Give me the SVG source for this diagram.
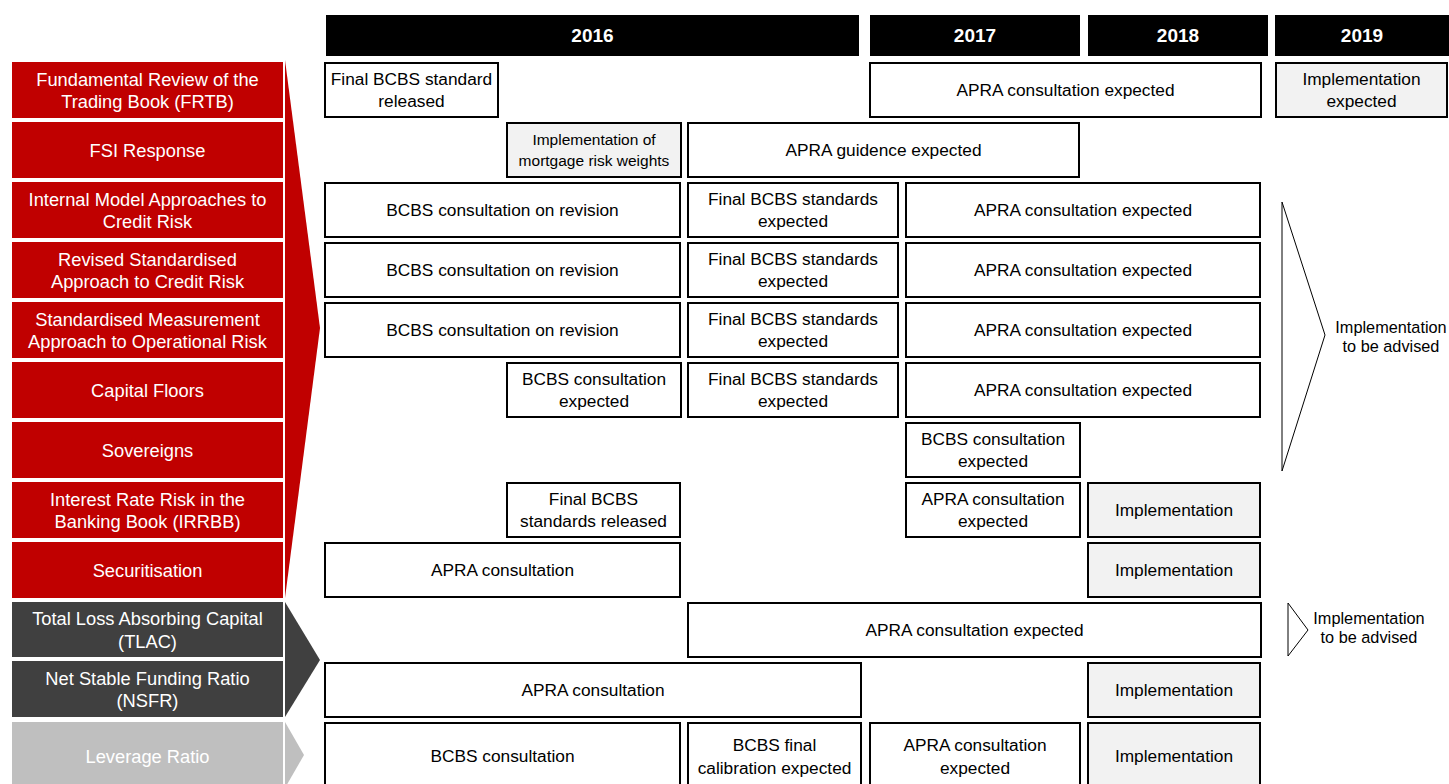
<svg xmlns="http://www.w3.org/2000/svg" width="1449" height="784" viewBox="0 0 1449 784">
<style>
.hdr{fill:#000}
.hdrt{font-family:"Liberation Sans",Arial,sans-serif;font-size:19px;font-weight:bold;fill:#fff;text-anchor:middle}
.lbl{font-family:"Liberation Sans",Arial,sans-serif;font-size:18.3px;fill:#fff;text-anchor:middle}
.red{fill:#C00000}
.dark{fill:#404040}
.light{fill:#BFBFBF}
.bx{fill:#fff;stroke:#000;stroke-width:2}
.gb{fill:#F2F2F2;stroke:#000;stroke-width:2}
.t{font-family:"Liberation Sans",Arial,sans-serif;font-size:17.3px;fill:#000;text-anchor:middle}
.ts{font-family:"Liberation Sans",Arial,sans-serif;font-size:15.5px;fill:#000;text-anchor:middle}
.tr{font-family:"Liberation Sans",Arial,sans-serif;font-size:16.3px;fill:#000;text-anchor:middle}
.tri{fill:#fff;stroke:#000;stroke-width:1}
</style>
<rect width="1449" height="784" fill="#fff"/>

<g id="headers">
<rect class="hdr" x="326" y="15" width="533" height="41"/>
<text class="hdrt" x="592.5" y="42">2016</text>
<rect class="hdr" x="870" y="15" width="210" height="41"/>
<text class="hdrt" x="975" y="42">2017</text>
<rect class="hdr" x="1088" y="15" width="180" height="41"/>
<text class="hdrt" x="1178" y="42">2018</text>
<rect class="hdr" x="1275" y="15" width="174" height="41"/>
<text class="hdrt" x="1362" y="42">2019</text>
</g>

<g id="labels">
<g id="lbl-frtb"><rect class="red" x="12" y="62" width="271" height="56"/><text class="lbl" x="147.5" y="86">Fundamental Review of the</text><text class="lbl" x="147.5" y="108">Trading Book (FRTB)</text></g>
<g id="lbl-fsi"><rect class="red" x="12" y="122" width="271" height="56"/><text class="lbl" x="147.5" y="157">FSI Response</text></g>
<g id="lbl-ima"><rect class="red" x="12" y="182" width="271" height="56"/><text class="lbl" x="147.5" y="206">Internal Model Approaches to</text><text class="lbl" x="147.5" y="228">Credit Risk</text></g>
<g id="lbl-rsa"><rect class="red" x="12" y="242" width="271" height="56"/><text class="lbl" x="147.5" y="266">Revised Standardised</text><text class="lbl" x="147.5" y="288">Approach to Credit Risk</text></g>
<g id="lbl-sma"><rect class="red" x="12" y="302" width="271" height="56"/><text class="lbl" x="147.5" y="326">Standardised Measurement</text><text class="lbl" x="147.5" y="348">Approach to Operational Risk</text></g>
<g id="lbl-floors"><rect class="red" x="12" y="362" width="271" height="56"/><text class="lbl" x="147.5" y="397">Capital Floors</text></g>
<g id="lbl-sov"><rect class="red" x="12" y="422" width="271" height="56"/><text class="lbl" x="147.5" y="457">Sovereigns</text></g>
<g id="lbl-irrbb"><rect class="red" x="12" y="482" width="271" height="56"/><text class="lbl" x="147.5" y="506">Interest Rate Risk in the</text><text class="lbl" x="147.5" y="528">Banking Book (IRRBB)</text></g>
<g id="lbl-sec"><rect class="red" x="12" y="542" width="271" height="56"/><text class="lbl" x="147.5" y="577">Securitisation</text></g>
<g id="lbl-tlac"><rect class="dark" x="12" y="602" width="271" height="55"/><text class="lbl" x="147.5" y="625">Total Loss Absorbing Capital</text><text class="lbl" x="147.5" y="648">(TLAC)</text></g>
<g id="lbl-nsfr"><rect class="dark" x="12" y="661" width="271" height="56"/><text class="lbl" x="147.5" y="685">Net Stable Funding Ratio</text><text class="lbl" x="147.5" y="707">(NSFR)</text></g>
<g id="lbl-lev"><rect class="light" x="12" y="722" width="271" height="70"/><text class="lbl" x="147.5" y="763">Leverage Ratio</text></g>
</g>

<g id="connectors">
<polygon class="red" points="285,60 320,328 285,598"/>
<polygon class="dark" points="285,602 320,660 285,717"/>
<polygon class="light" points="285,722 304,755 285,788"/>
<polygon class="tri" points="1282,202 1325,335 1282,471"/>
<polygon class="tri" points="1288,603 1308,630 1288,656"/>
</g>

<g id="notes">
<g id="note-1"><text class="tr" x="1391" y="333">Implementation</text><text class="tr" x="1391" y="352">to be advised</text></g>
<g id="note-2"><text class="tr" x="1369" y="624">Implementation</text><text class="tr" x="1369" y="643">to be advised</text></g>
</g>

<g id="row0">
<g id="r0a"><rect class="bx" x="325" y="63" width="173" height="54"/><text class="t" x="411.5" y="85">Final BCBS standard</text><text class="t" x="411.5" y="107">released</text></g>
<g id="r0b"><rect class="bx" x="870" y="63" width="391" height="54"/><text class="t" x="1065.5" y="96">APRA consultation expected</text></g>
<g id="r0c"><rect class="gb" x="1276" y="63" width="171" height="54"/><text class="t" x="1361.5" y="85">Implementation</text><text class="t" x="1361.5" y="107">expected</text></g>
</g>
<g id="row1">
<g id="r1a"><rect class="gb" x="507" y="123" width="174" height="54"/><text class="ts" x="594" y="145">Implementation of</text><text class="ts" x="594" y="166">mortgage risk weights</text></g>
<g id="r1b"><rect class="bx" x="688" y="123" width="391" height="54"/><text class="t" x="883.5" y="156">APRA guidence expected</text></g>
</g>
<g id="row2">
<g id="r2a"><rect class="bx" x="325" y="183" width="355" height="54"/><text class="t" x="502.5" y="216">BCBS consultation on revision</text></g>
<g id="r2b"><rect class="bx" x="688" y="183" width="210" height="54"/><text class="t" x="793" y="205">Final BCBS standards</text><text class="t" x="793" y="227">expected</text></g>
<g id="r2c"><rect class="bx" x="906" y="183" width="354" height="54"/><text class="t" x="1083" y="216">APRA consultation expected</text></g>
</g>
<g id="row3">
<g id="r3a"><rect class="bx" x="325" y="243" width="355" height="54"/><text class="t" x="502.5" y="276">BCBS consultation on revision</text></g>
<g id="r3b"><rect class="bx" x="688" y="243" width="210" height="54"/><text class="t" x="793" y="265">Final BCBS standards</text><text class="t" x="793" y="287">expected</text></g>
<g id="r3c"><rect class="bx" x="906" y="243" width="354" height="54"/><text class="t" x="1083" y="276">APRA consultation expected</text></g>
</g>
<g id="row4">
<g id="r4a"><rect class="bx" x="325" y="303" width="355" height="54"/><text class="t" x="502.5" y="336">BCBS consultation on revision</text></g>
<g id="r4b"><rect class="bx" x="688" y="303" width="210" height="54"/><text class="t" x="793" y="325">Final BCBS standards</text><text class="t" x="793" y="347">expected</text></g>
<g id="r4c"><rect class="bx" x="906" y="303" width="354" height="54"/><text class="t" x="1083" y="336">APRA consultation expected</text></g>
</g>
<g id="row5">
<g id="r5a"><rect class="bx" x="507" y="363" width="174" height="54"/><text class="t" x="594" y="385">BCBS consultation</text><text class="t" x="594" y="407">expected</text></g>
<g id="r5b"><rect class="bx" x="688" y="363" width="210" height="54"/><text class="t" x="793" y="385">Final BCBS standards</text><text class="t" x="793" y="407">expected</text></g>
<g id="r5c"><rect class="bx" x="906" y="363" width="354" height="54"/><text class="t" x="1083" y="396">APRA consultation expected</text></g>
</g>
<g id="row6">
<g id="r6a"><rect class="bx" x="906" y="423" width="174" height="54"/><text class="t" x="993" y="445">BCBS consultation</text><text class="t" x="993" y="467">expected</text></g>
</g>
<g id="row7">
<g id="r7a"><rect class="bx" x="507" y="483" width="173" height="54"/><text class="t" x="593.5" y="505">Final BCBS</text><text class="t" x="593.5" y="527">standards released</text></g>
<g id="r7b"><rect class="bx" x="906" y="483" width="174" height="54"/><text class="t" x="993" y="505">APRA consultation</text><text class="t" x="993" y="527">expected</text></g>
<g id="r7c"><rect class="gb" x="1088" y="483" width="172" height="54"/><text class="t" x="1174" y="516">Implementation</text></g>
</g>
<g id="row8">
<g id="r8a"><rect class="bx" x="325" y="543" width="355" height="54"/><text class="t" x="502.5" y="576">APRA consultation</text></g>
<g id="r8b"><rect class="gb" x="1088" y="543" width="172" height="54"/><text class="t" x="1174" y="576">Implementation</text></g>
</g>
<g id="row9">
<g id="r9a"><rect class="bx" x="688" y="603" width="573" height="54"/><text class="t" x="974.5" y="636">APRA consultation expected</text></g>
</g>
<g id="row10">
<g id="r10a"><rect class="bx" x="325" y="663" width="536" height="54"/><text class="t" x="593" y="696">APRA consultation</text></g>
<g id="r10b"><rect class="gb" x="1088" y="663" width="172" height="54"/><text class="t" x="1174" y="696">Implementation</text></g>
</g>
<g id="row11">
<g id="r11a"><rect class="bx" x="325" y="723" width="355" height="68"/><text class="t" x="502.5" y="762">BCBS consultation</text></g>
<g id="r11b"><rect class="bx" x="688" y="723" width="173" height="68"/><text class="t" x="774.5" y="751">BCBS final</text><text class="t" x="774.5" y="774">calibration expected</text></g>
<g id="r11c"><rect class="bx" x="870" y="723" width="210" height="68"/><text class="t" x="975" y="751">APRA consultation</text><text class="t" x="975" y="774">expected</text></g>
<g id="r11d"><rect class="gb" x="1088" y="723" width="172" height="68"/><text class="t" x="1174" y="762">Implementation</text></g>
</g>
</svg>
